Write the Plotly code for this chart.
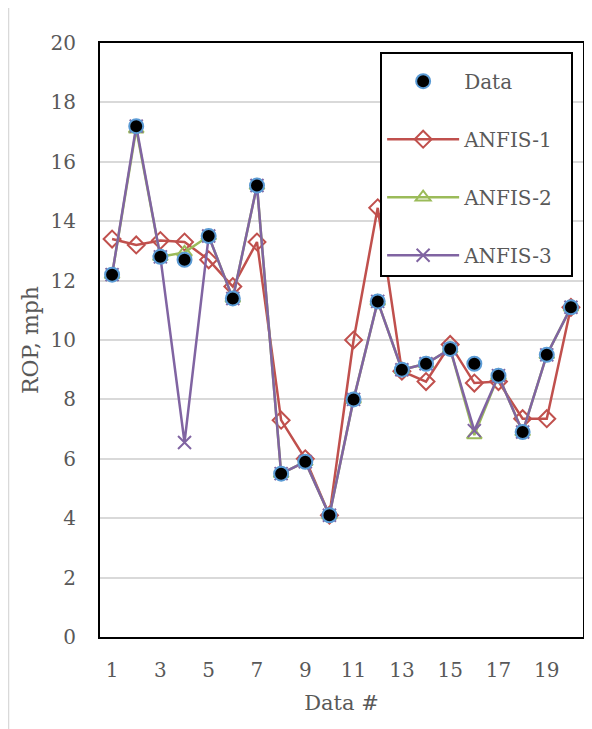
import plotly.graph_objects as go

data_idx = list(range(1, 21))
data_vals = [12.2, 17.2, 12.8, 12.7, 13.5, 11.4, 15.2, 5.5, 5.9, 4.1,
             8.0, 11.3, 9.0, 9.2, 9.7, 9.2, 8.8, 6.9, 9.5, 11.1]
anfis1 = [13.4, 13.2, 13.35, 13.3, 12.7, 11.8, 13.3, 7.3, 6.0, 4.1,
          10.0, 14.45, 8.95, 8.6, 9.85, 8.55, 8.6, 7.35, 7.35, 11.1]
anfis2 = [12.2, 17.1, 12.8, 12.95, 13.5, 11.4, 15.2, 5.5, 5.9, 4.1,
          8.0, 11.3, 9.0, 9.2, 9.7, 6.8, 8.8, 6.9, 9.5, 11.1]
anfis3 = [12.2, 17.2, 12.8, 6.55, 13.5, 11.4, 15.2, 5.5, 5.9, 4.1,
          8.0, 11.3, 9.0, 9.2, 9.7, 6.95, 8.8, 6.9, 9.5, 11.1]
xtick_vals = [1, 3, 5, 7, 9, 11, 13, 15, 17, 19]
ytick_vals = [0, 2, 4, 6, 8, 10, 12, 14, 16, 18, 20]

FONT = "DejaVu Serif"
TXT = "#595959"
pad = "\u00a0" * 2

fig = go.Figure()
fig.add_trace(go.Scatter(
    x=data_idx, y=anfis1, mode="lines+markers", name="ANFIS-1" + pad,
    line=dict(color="#C0504D", width=2.5),
    marker=dict(symbol="diamond-open", size=13, color="#C0504D", line=dict(width=2)),
    legendrank=2, legendgroup="a1"))
fig.add_trace(go.Scatter(
    x=data_idx, y=anfis2, mode="lines+markers", name="ANFIS-2" + pad,
    line=dict(color="#9BBB59", width=2.5),
    marker=dict(symbol="triangle-up-open", size=13, color="#9BBB59", line=dict(width=2)),
    legendrank=3, legendgroup="a2"))
fig.add_trace(go.Scatter(
    x=data_idx, y=anfis3, mode="lines+markers", name="ANFIS-3" + pad,
    line=dict(color="#8064A2", width=2.5),
    marker=dict(symbol="x-thin-open", size=13, color="#8064A2", line=dict(width=2, color="#8064A2")),
    legendrank=4, legendgroup="a3"))
fig.add_trace(go.Scatter(
    x=data_idx, y=data_vals, mode="markers", name="Data",
    marker=dict(symbol="circle", size=14, color="black", line=dict(width=2, color="#5B9BD5")),
    legendrank=1, legendgroup="d"))

fig.update_layout(
    width=584, height=721,
    margin=dict(l=92, r=9, t=35, b=92),
    paper_bgcolor="white", plot_bgcolor="white",
    font=dict(family=FONT, size=20, color=TXT),
    showlegend=True,
    legend=dict(
        x=0.58, y=0.985, xanchor="left", yanchor="top",
        bordercolor="black", borderwidth=2, bgcolor="white",
        font=dict(family=FONT, size=20, color=TXT),
        tracegroupgap=29, itemwidth=72,
        traceorder="grouped",
        title=dict(text="\u00a0", font=dict(size=6)),
    ),
    xaxis=dict(
        range=[0.5, 20.5], tickmode="array", tickvals=xtick_vals,
        showgrid=False, zeroline=False, automargin=False,
        showline=True, linecolor="black", linewidth=2, mirror=True,
        ticks="", ticklabelstandoff=14,
        tickfont=dict(family=FONT, size=20, color=TXT),
        title=dict(text="Data #", font=dict(family=FONT, size=21, color=TXT), standoff=14),
    ),
    yaxis=dict(
        range=[0, 20], tickmode="array", tickvals=ytick_vals,
        showgrid=True, gridcolor="#D9D9D9", gridwidth=1.5, zeroline=False, automargin=False,
        showline=True, linecolor="black", linewidth=2, mirror=True,
        ticks="", ticklabelstandoff=18,
        tickfont=dict(family=FONT, size=20, color=TXT),
        title=dict(text="ROP, mph", font=dict(family=FONT, size=22, color=TXT), standoff=6),
    ),
    shapes=[dict(type="line", xref="paper", yref="paper",
                 x0=-0.1894, x1=-0.1894, y0=-0.16, y1=1.075,
                 line=dict(color="#D9D9D9", width=1.5))],
)

fig.write_html("out.html")
